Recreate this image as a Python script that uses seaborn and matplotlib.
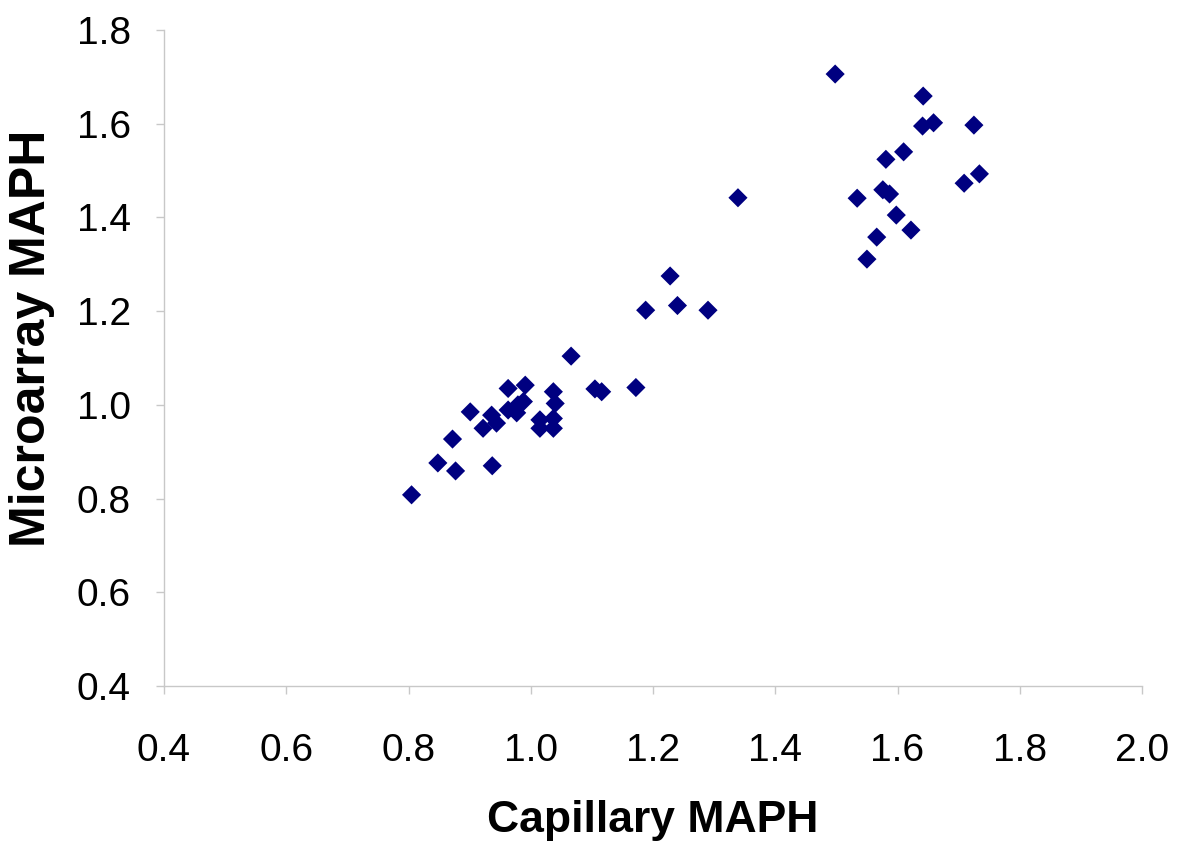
import numpy as np
import pandas as pd
import matplotlib.pyplot as plt
import seaborn as sns

sns.set_theme(style="white")
plt.rcParams['font.family'] = ['Liberation Sans', 'DejaVu Sans']

# values
capillary = [0.805, 0.848, 0.877, 0.937, 0.872, 0.901, 0.922, 0.936, 0.944,
             0.963, 0.991, 0.988, 0.963, 0.977, 0.979, 1.037, 1.040, 1.015,
             1.037, 1.015, 1.037, 1.105, 1.116, 1.066, 1.172, 1.188, 1.228,
             1.240, 1.290, 1.339, 1.498, 1.642, 1.641, 1.659, 1.725, 1.610,
             1.581, 1.576, 1.587, 1.534, 1.734, 1.709, 1.598, 1.622, 1.566,
             1.550]
microarray = [0.808, 0.876, 0.859, 0.870, 0.927, 0.985, 0.950, 0.978, 0.961,
              1.035, 1.042, 1.007, 0.989, 0.983, 1.000, 1.028, 1.003, 0.968,
              0.971, 0.950, 0.950, 1.034, 1.028, 1.104, 1.037, 1.202, 1.275,
              1.212, 1.202, 1.442, 1.706, 1.659, 1.595, 1.602, 1.597, 1.540,
              1.524, 1.459, 1.450, 1.441, 1.493, 1.473, 1.405, 1.373, 1.358,
              1.311]

df = pd.DataFrame({"Capillary MAPH": capillary, "Microarray MAPH": microarray})

fig = plt.figure(figsize=(12, 8.44), dpi=100)
ax = fig.add_axes([164 / 1200, 1 - 686 / 844, (1142 - 164) / 1200, (686 - 30) / 844])

sns.scatterplot(data=df, x="Capillary MAPH", y="Microarray MAPH",
                marker="D", s=95, color="#000080", edgecolor="none", ax=ax)

ax.set_xlim(0.4, 2.0)
ax.set_ylim(0.4, 1.8)
ax.set_xticks(np.arange(0.4, 2.01, 0.2))
ax.set_yticks(np.arange(0.4, 1.81, 0.2))
ax.xaxis.set_major_formatter(plt.FormatStrFormatter('%.1f'))
ax.yaxis.set_major_formatter(plt.FormatStrFormatter('%.1f'))

for side in ["top", "right"]:
    ax.spines[side].set_visible(False)
for side in ["left", "bottom"]:
    ax.spines[side].set_color("#c8c8c8")
    ax.spines[side].set_linewidth(1)

ax.tick_params(axis="both", direction="out", length=6, width=1, color="#c8c8c8",
               labelsize=28, labelcolor="black", bottom=True, left=True)
ax.tick_params(axis="x", pad=28)
ax.tick_params(axis="y", pad=18)

ax.set_xlabel("Capillary MAPH", fontsize=32, fontweight="bold", color="black",
              labelpad=22)
ax.set_ylabel("Microarray MAPH", fontsize=36, fontweight="bold", color="black")
ax.yaxis.set_label_coords(-0.111, 0.53)

fig.savefig("out.png", dpi=100, facecolor="white")
